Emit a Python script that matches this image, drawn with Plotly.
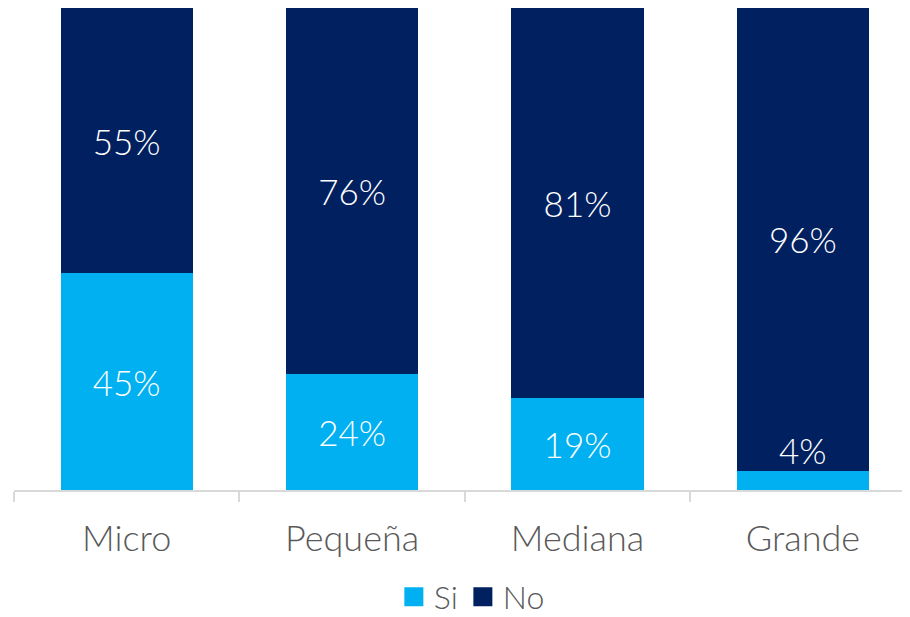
import plotly.graph_objects as go

categories = ["Micro", "Pequeña", "Mediana", "Grande"]
si_values = [45, 24, 19, 4]
no_values = [55, 76, 81, 96]
series_names = ["Si", "No"]

SI_COLOR = "#00B0F0"
NO_COLOR = "#002060"
FONT = "Lato"
GREY = "#595959"

si_text = [f"{v}%" for v in si_values]
no_text = [f"{v}%" for v in no_values]
si_pos = ["inside" if v >= 10 else "none" for v in si_values]

fig = go.Figure()
fig.add_trace(go.Bar(
    x=categories, y=si_values, name=series_names[0], marker_color=SI_COLOR,
    marker_line_width=0,
    text=si_text, textposition=si_pos, insidetextanchor="middle", textangle=0,
    textfont=dict(color="white", size=35, family=FONT, weight=300),
    width=0.586, showlegend=False, hoverinfo="skip",
))
fig.add_trace(go.Bar(
    x=categories, y=no_values, name=series_names[1], marker_color=NO_COLOR,
    marker_line_width=0,
    text=no_text, textposition="inside", insidetextanchor="middle", textangle=0,
    textfont=dict(color="white", size=35, family=FONT, weight=300),
    width=0.586, showlegend=False, hoverinfo="skip",
))
# legend proxies
for name, col in zip(series_names, [SI_COLOR, NO_COLOR]):
    fig.add_trace(go.Scatter(
        x=[None], y=[None], mode="markers", name=name,
        marker=dict(symbol="square", size=16, color=col, line=dict(color=col, width=3)),
    ))

# small Si label shown above its thin segment
for c, v, p in zip(categories, si_values, si_pos):
    if p == "none":
        fig.add_annotation(x=c, y=v, text=f"{v}%", showarrow=False, yanchor="bottom",
                           yshift=-2, font=dict(color="white", size=35, family=FONT, weight=300))

fig.update_layout(
    barmode="stack",
    width=902, height=660,
    margin=dict(l=6, r=0, t=0, b=178),
    paper_bgcolor="white", plot_bgcolor="white",
    uniformtext=dict(minsize=35, mode="show"),
    legend=dict(orientation="h", x=0.511, xanchor="center", y=-0.222, yanchor="middle",
                traceorder="normal",
                font=dict(size=32, color=GREY, family=FONT, weight=300),
                itemsizing="trace", tracegroupgap=0),
    xaxis=dict(range=[-0.5, 3.475], showline=True, linecolor="#D9D9D9", linewidth=2,
               ticks="outside", tickson="boundaries", ticklen=10, tickcolor="#D9D9D9", tickwidth=2,
               ticklabelstandoff=16,
               tickfont=dict(size=36, color=GREY, family=FONT, weight=300), showgrid=False),
    yaxis=dict(range=[0, 100], visible=False, showgrid=False, zeroline=False),
)

fig.write_html("out.html")
